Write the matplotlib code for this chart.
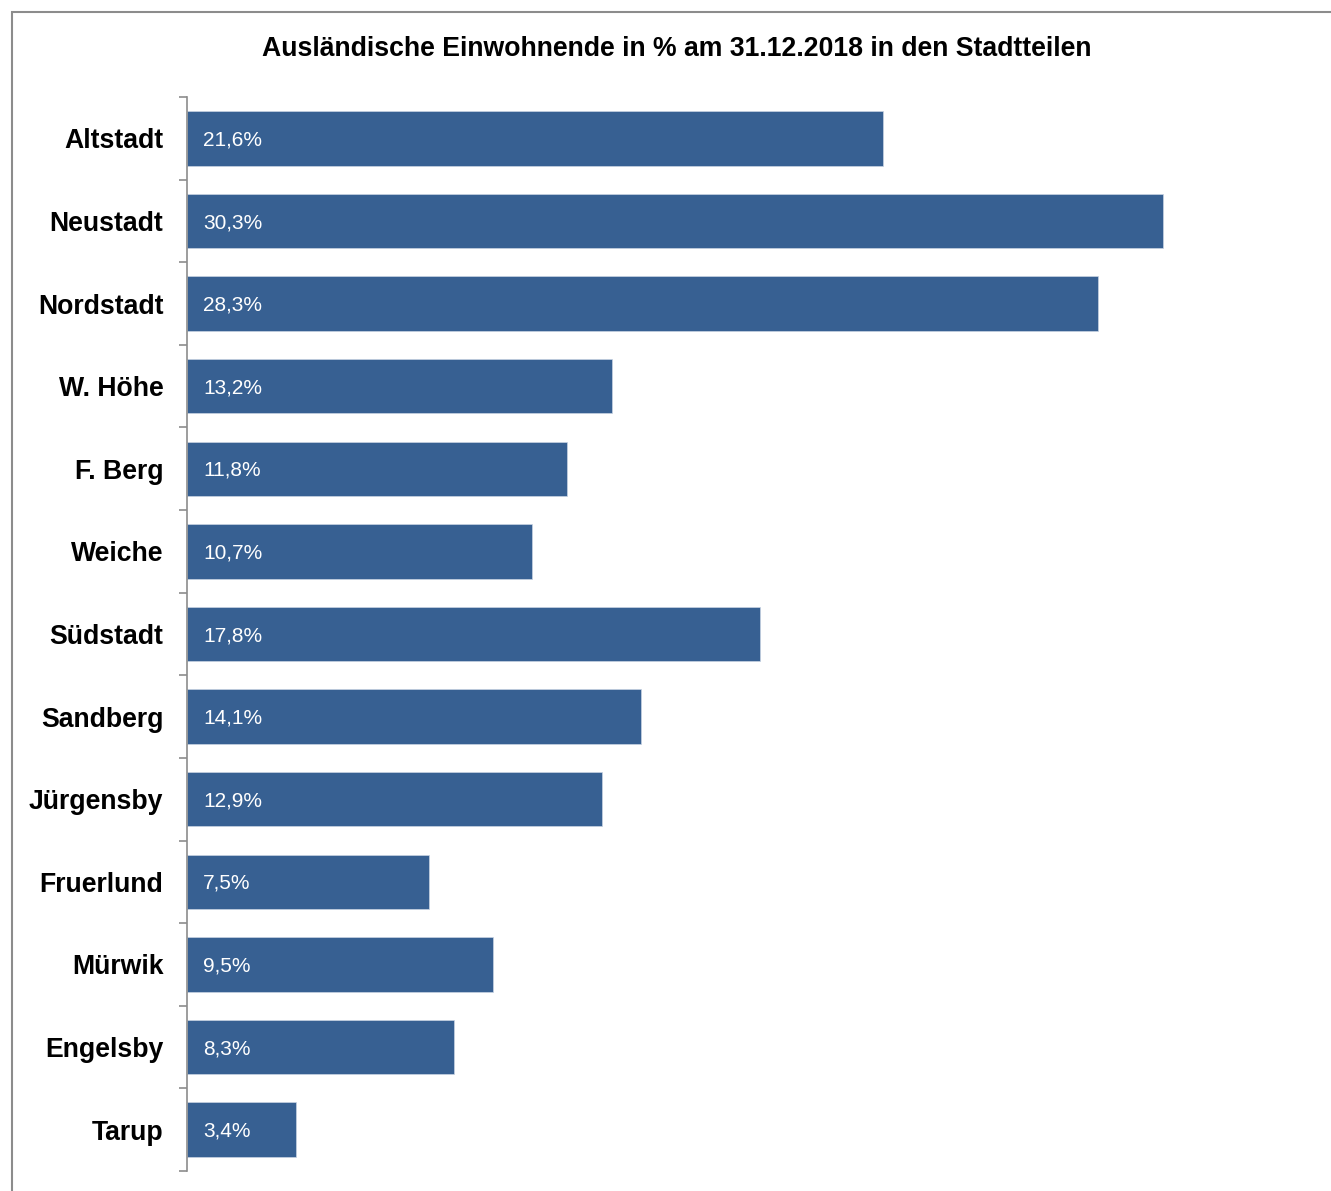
import matplotlib.pyplot as plt
from matplotlib.patches import Rectangle

plt.rcParams['font.family'] = ['Liberation Sans', 'DejaVu Sans']

districts = ['Altstadt', 'Neustadt', 'Nordstadt', 'W. Höhe', 'F. Berg', 'Weiche',
             'Südstadt', 'Sandberg', 'Jürgensby', 'Fruerlund', 'Mürwik', 'Engelsby', 'Tarup']
shares = [21.6, 30.3, 28.3, 13.2, 11.8, 10.7, 17.8, 14.1, 12.9, 7.5, 9.5, 8.3, 3.4]

W, H = 1331, 1191
fig = plt.figure(figsize=(W / 100, H / 100), dpi=100)
ax = fig.add_axes([187 / W, 20 / H, 1127 / W, 1074 / H])

pos = list(range(len(districts)))
ax.barh(pos, shares, height=0.66, color='#376092', edgecolor='#c8d3e3', linewidth=0.5)

for p, v in zip(pos, shares):
    ax.text(0.5, p + 0.02, f'{v:.1f}%'.replace('.', ','), color='white', fontsize=15,
            va='center', ha='left')

ax.set_xlim(0, 35)
ax.set_ylim(len(districts) - 0.5, -0.5)
ax.set_yticks(pos)
ax.set_yticklabels(districts, fontsize=19.2, fontweight='bold')
ax.set_yticks([i - 0.5 for i in range(len(districts) + 1)], minor=True)
ax.tick_params(axis='y', which='major', length=0, pad=17)
ax.tick_params(axis='y', which='minor', length=6, width=1.2, color='#8c8c8c')
ax.set_xticks([])
for s in ['top', 'right', 'bottom']:
    ax.spines[s].set_visible(False)
ax.spines['left'].set_color('#8c8c8c')
ax.spines['left'].set_linewidth(1.2)

fig.text(677 / W, 1 - 49 / H, 'Ausländische Einwohnende in % am 31.12.2018 in den Stadtteilen',
         ha='center', va='center', fontsize=19.2, fontweight='bold')

# frame around the chart (cut off at right and bottom)
fig.patches.append(Rectangle((12 / W, -0.1), 1.2, 1 - 12 / H + 0.1, transform=fig.transFigure,
                             fill=False, edgecolor='#8c8c8c', linewidth=1.5))

fig.savefig('out.png', dpi=100)
